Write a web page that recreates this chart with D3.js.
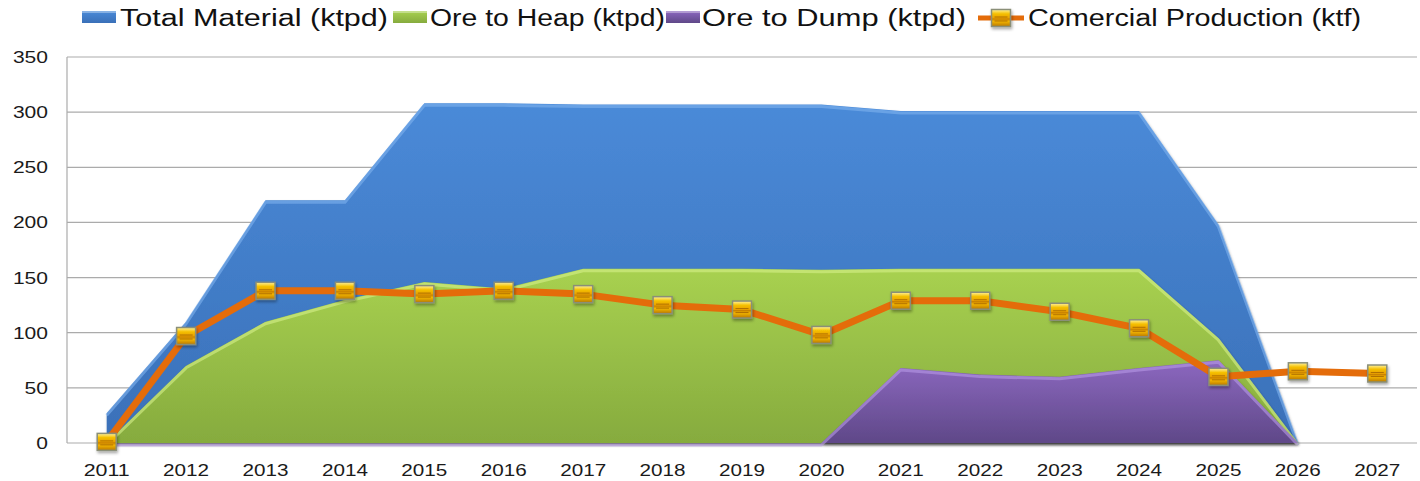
<!DOCTYPE html>
<html><head><meta charset="utf-8">
<script src="https://cdn.jsdelivr.net/npm/d3@7"></script>
<style>body{margin:0;background:#fff;}svg{display:block;font-family:"Liberation Sans",Arial,sans-serif;}</style>
</head><body><svg id="c" width="1420" height="481"></svg>
<script>
const years = ["2011","2012","2013","2014","2015","2016","2017","2018","2019","2020","2021","2022","2023","2024","2025","2026","2027"];
const totalMaterial = [27,110,220,220,308,308,307,307,307,307,301,301,301,301,198,0,null];
const oreToHeap = [0,70,110,130,146,140,158,158,158,157,158,158,158,158,95,0,null];
const oreToDump = [0,0,0,0,0,0,0,0,0,0,68,62,60,68,75,0,null];
const production = [1,97,138,138,135,138,135,125,121,98,129,129,119,104,60,65,63];
const yTicks = [0,50,100,150,200,250,300,350];
const legendLabels = ["Total Material (ktpd)","Ore to Heap (ktpd)","Ore to Dump (ktpd)","Comercial Production (ktf)"];

(function(){
const svg = d3.select("#c");
const pL = 67, pR = 1417, pT = 57, pB = 443;
const x = d3.scaleBand().domain(years).range([pL, pR]);
const xc = d => x(d) + x.bandwidth()/2;
const y = d3.scaleLinear().domain([0,350]).range([pB, pT]);

const defs = svg.append("defs");
function vgrad(id, stops){
  const g = defs.append("linearGradient").attr("id",id).attr("x1",0).attr("y1",0).attr("x2",0).attr("y2",1);
  stops.forEach(s=>g.append("stop").attr("offset",s[0]).attr("stop-color",s[1]));
}
vgrad("gBlue",[[0,"#4a8ad8"],[1,"#3a70b8"]]);
vgrad("gGreen",[[0,"#a8d150"],[1,"#86ab3e"]]);
vgrad("gPurple",[[0,"#8c68c0"],[1,"#5f4888"]]);
vgrad("gMark",[[0,"#fff3a0"],[0.25,"#f5c000"],[0.5,"#e8a000"],[0.55,"#c88000"],[0.7,"#f2b400"],[1,"#b87800"]]);
const f = defs.append("filter").attr("id","sh").attr("x","-30%").attr("y","-30%").attr("width","160%").attr("height","160%");
f.append("feDropShadow").attr("dx",1).attr("dy",2).attr("stdDeviation",1.5).attr("flood-color","#000").attr("flood-opacity",0.35);

svg.append("g").selectAll("line").data(yTicks).join("line")
  .attr("x1",pL).attr("x2",pR).attr("y1",d=>y(d)).attr("y2",d=>y(d))
  .attr("stroke","#ababab").attr("stroke-width",1.2);
svg.append("line").attr("x1",pL).attr("x2",pL).attr("y1",pT).attr("y2",pB).attr("stroke","#ababab").attr("stroke-width",1.2);

svg.append("g").selectAll("text").data(yTicks).join("text")
  .attr("x",48).attr("y",d=>y(d)+6).attr("text-anchor","end")
  .attr("font-size",17).attr("fill","#1a1a1a")
  .attr("textLength",d=>String(d).length*11.7).attr("lengthAdjust","spacingAndGlyphs").text(d=>d);
svg.append("g").selectAll("text").data(years).join("text")
  .attr("x",d=>xc(d)).attr("y",476).attr("text-anchor","middle")
  .attr("font-size",17).attr("fill","#1a1a1a")
  .attr("textLength",46).attr("lengthAdjust","spacingAndGlyphs").text(d=>d);

function areaSeries(vals, fill, hi){
  const pts = years.map((yr,i)=>({yr,v:vals[i]})).filter(d=>d.v!==null);
  const area = d3.area().x(d=>xc(d.yr)).y0(y(0)).y1(d=>y(d.v));
  svg.append("path").datum(pts).attr("d",area).attr("fill",fill).attr("filter","url(#sh)");
  const line = d3.line().x(d=>xc(d.yr)).y(d=>y(d.v)+2);
  svg.append("path").datum(pts).attr("d",line).attr("fill","none").attr("stroke",hi).attr("stroke-width",3).attr("stroke-opacity",0.6).attr("stroke-linejoin","round");
}
areaSeries(totalMaterial,"url(#gBlue)","#7fb2ee");
areaSeries(oreToHeap,"url(#gGreen)","#d6f08a");
areaSeries(oreToDump,"url(#gPurple)","#b79ae6");

const lp = years.map((yr,i)=>({yr,v:production[i]}));
svg.append("path").datum(lp).attr("d",d3.line().x(d=>xc(d.yr)).y(d=>y(d.v)))
  .attr("fill","none").attr("stroke","#e46c0a").attr("stroke-width",7).attr("stroke-linejoin","round");

function marker(g, cx, cy){
  const m = g.append("g").attr("transform",`translate(${cx},${cy})`).attr("filter","url(#sh)");
  m.append("rect").attr("x",-9.5).attr("y",-8.5).attr("width",19).attr("height",17).attr("fill","url(#gMark)").attr("stroke","#8a8f78").attr("stroke-width",1.5);
  m.append("line").attr("x1",-6.5).attr("x2",6.5).attr("y1",-1).attr("y2",-1).attr("stroke","#b07000").attr("stroke-width",1);
  m.append("line").attr("x1",-6.5).attr("x2",6.5).attr("y1",3).attr("y2",3).attr("stroke","#b07000").attr("stroke-width",1);
}
const mg = svg.append("g");
lp.forEach(d=>marker(mg, xc(d.yr), y(d.v)));

const lg = svg.append("g");
const legendItems = [
  {sx:82, tx:120, tw:268, fill:"url(#gBlue)", type:"area"},
  {sx:393, tx:430, tw:235, fill:"url(#gGreen)", type:"area"},
  {sx:666, tx:702, tw:264, fill:"url(#gPurple)", type:"area"},
  {sx:978, tx:1028, tw:333, type:"line"}
];
legendItems.forEach((it,i)=>{
  if(it.type==="area"){
    lg.append("rect").attr("x",it.sx).attr("y",11).attr("width",34).attr("height",12).attr("fill",it.fill);
    lg.append("rect").attr("x",it.sx).attr("y",11).attr("width",34).attr("height",2).attr("fill","#fff").attr("opacity",0.35);
  } else {
    lg.append("line").attr("x1",it.sx).attr("x2",it.sx+46).attr("y1",18).attr("y2",18).attr("stroke","#e46c0a").attr("stroke-width",5);
    marker(lg, it.sx+23, 18);
  }
  lg.append("text").attr("x",it.tx).attr("y",26).attr("font-size",23).attr("fill","#111")
    .attr("textLength",it.tw).attr("lengthAdjust","spacingAndGlyphs").text(legendLabels[i]);
});
})();
</script></body></html>
